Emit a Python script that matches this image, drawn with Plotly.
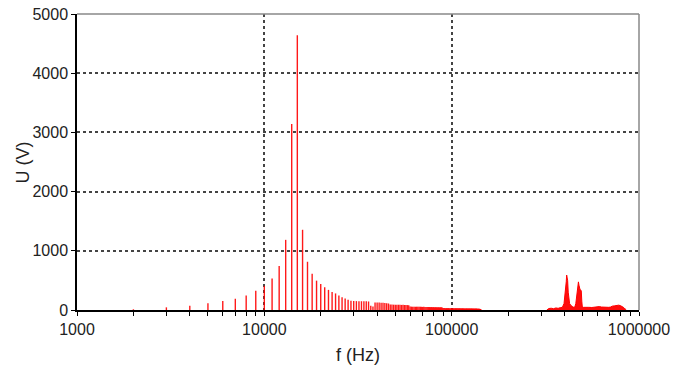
import plotly.graph_objects as go

# Harmonic spectrum (frequency in Hz, amplitude in V)
harmonic_freq_hz = [
    2000, 3000, 4000, 5000, 6000, 7000, 8000, 9000, 10000, 11000,
    12000, 13000, 14000, 15000, 16000, 17000, 18000, 19000, 20000, 21000,
    22000, 23000, 24000, 25000, 26000, 27000, 28000, 29000, 30000, 31000,
    32000, 33000, 34000, 35000, 36000, 37000, 38000, 39000, 40000, 41000,
    42000, 43000, 44000, 45000, 46000, 47000, 48000, 49000, 50000, 51000,
    52000, 53000, 54000, 55000, 56000, 57000, 58000, 59000, 60000, 61000,
    62000, 63000, 64000, 65000, 66000, 67000, 68000, 69000, 70000, 71000,
    72000, 73000, 74000, 75000, 76000, 77000, 78000, 79000, 80000, 81000,
    82000, 83000, 84000, 85000, 86000, 87000, 88000, 89000, 90000, 91000,
    92000, 93000, 94000, 95000, 96000, 97000, 98000, 99000, 100000, 101000,
    102000, 103000, 104000, 105000, 106000, 107000, 108000, 109000, 110000, 111000,
    112000, 113000, 114000, 115000, 116000, 117000, 118000, 119000, 120000, 121000,
    122000, 123000, 124000, 125000, 126000, 127000, 128000, 129000, 130000, 131000,
    132000, 133000, 134000, 135000, 136000, 137000, 138000, 139000, 140000, 141000,
    142000, 143000,
]
harmonic_u_v = [
    12, 45, 73, 113, 152, 190, 245, 327, 408, 530,
    742, 1185, 3140, 4640, 1355, 815, 612, 496, 440, 383,
    340, 305, 280, 245, 215, 195, 175, 158, 152, 150,
    149, 148, 147, 146, 144, 72, 60, 126, 128, 125,
    123, 121, 118, 115, 110, 95, 92, 90, 90, 88,
    89, 87, 86, 88, 85, 84, 83, 80, 58, 57,
    56, 57, 55, 56, 54, 55, 53, 54, 52, 53,
    51, 52, 50, 51, 50, 49, 50, 48, 49, 47,
    48, 47, 46, 47, 45, 46, 45, 44, 33, 32,
    33, 31, 32, 31, 32, 30, 31, 30, 31, 30,
    29, 30, 29, 30, 29, 28, 29, 28, 29, 28,
    27, 28, 27, 28, 27, 26, 27, 26, 27, 26,
    25, 26, 25, 26, 25, 24, 25, 24, 25, 24,
    23, 24, 23, 24, 23, 22, 23, 22, 21, 20,
    18, 15,
]

# High-frequency band (dense content, drawn as filled envelope)
hf_freq_hz = [
    322000, 330000, 340000, 350000, 360000, 370000, 380000, 390000, 398000, 403000,
    406000, 409000, 411000, 413000, 416000, 419000, 422000, 426000, 432000, 438000,
    444000, 450000, 455000, 460000, 465000, 469000, 472000, 475000, 478000, 481000,
    484000, 488000, 492000, 495000, 498000, 505000, 520000, 540000, 560000, 580000,
    600000, 615000, 630000, 650000, 670000, 690000, 705000, 720000, 740000, 760000,
    780000, 800000, 815000, 830000, 845000, 855000,
]
hf_u_v = [
    0, 25, 30, 22, 35, 28, 40, 45, 110, 250,
    340, 480, 590, 560, 500, 300, 170, 110, 80, 60,
    50, 45, 55, 110, 220, 340, 430, 475, 420, 360,
    350, 340, 320, 150, 60, 45, 40, 45, 42, 48,
    55, 58, 50, 45, 48, 45, 50, 65, 70, 80,
    82, 70, 60, 40, 15, 0,
]

x_tick_vals = [1000, 10000, 100000, 1000000]
x_tick_text = ["1000", "10000", "100000", "1000000"]
x_minor_vals = [2000, 3000, 4000, 5000, 6000, 7000, 8000, 9000,
                20000, 30000, 40000, 50000, 60000, 70000, 80000, 90000,
                200000, 300000, 400000, 500000, 600000, 700000, 800000, 900000]
y_tick_vals = [0, 1000, 2000, 3000, 4000, 5000]

spike_x, spike_y = [], []
for f, u in zip(harmonic_freq_hz, harmonic_u_v):
    spike_x += [f, f, None]
    spike_y += [0, u, None]

fig = go.Figure()
fig.add_trace(go.Scatter(
    x=spike_x, y=spike_y, mode="lines",
    line=dict(color="rgba(255,0,0,0.9)", width=1.4),
    hoverinfo="skip", showlegend=False,
))
fig.add_trace(go.Scatter(
    x=hf_freq_hz, y=hf_u_v, mode="lines", fill="tozeroy",
    fillcolor="rgba(255,0,0,0.95)",
    line=dict(color="red", width=1),
    hoverinfo="skip", showlegend=False,
))

font_family = "Liberation Sans, Arial, sans-serif"

fig.update_layout(
    width=687, height=366,
    margin=dict(l=77, r=48, t=14, b=56),
    paper_bgcolor="white", plot_bgcolor="white",
    font=dict(family=font_family, size=16, color="#222"),
    xaxis=dict(
        type="log", range=[3, 6], automargin=False,
        tickvals=x_tick_vals, ticktext=x_tick_text,
        ticks="outside", ticklen=4, tickcolor="black",
        minor=dict(tickvals=x_minor_vals, ticks="outside", ticklen=4, tickcolor="black", showgrid=False),
        showline=True, linecolor="black", linewidth=1.5,
        showgrid=True, gridcolor="#444", griddash="dot", gridwidth=1.5,
        zeroline=False, ticklabeloverflow="allow",
        tickfont=dict(size=16),
    ),
    yaxis=dict(
        range=[0, 5000], automargin=False,
        tickvals=y_tick_vals,
        ticks="outside", ticklen=4, tickcolor="black",
        showline=True, linecolor="black", linewidth=1.5,
        showgrid=True, gridcolor="#444", griddash="dot", gridwidth=1.5,
        zeroline=False, ticklabeloverflow="allow",
        tickfont=dict(size=16),
    ),
)

fig.add_annotation(text="U (V)", xref="paper", yref="paper", x=-0.0952, y=0.5,
                   xanchor="center", yanchor="middle", textangle=-90,
                   showarrow=False, font=dict(size=18, family=font_family, color="#222"))
fig.add_annotation(text="f (Hz)", xref="paper", yref="paper", x=0.5, y=-0.152,
                   xanchor="center", yanchor="middle",
                   showarrow=False, font=dict(size=18, family=font_family, color="#222"))

# gray top and right frame lines
fig.add_shape(type="line", xref="paper", yref="paper", x0=0, x1=1, y0=1, y1=1,
              line=dict(color="#888", width=1.5))
fig.add_shape(type="line", xref="paper", yref="paper", x0=1, x1=1, y0=0, y1=1,
              line=dict(color="#888", width=1.5))

# remove the page's default body margin so the figure fills the window exactly
fig.write_html("out.html", config={"displayModeBar": False},
               post_script="document.body.style.margin='0';")
